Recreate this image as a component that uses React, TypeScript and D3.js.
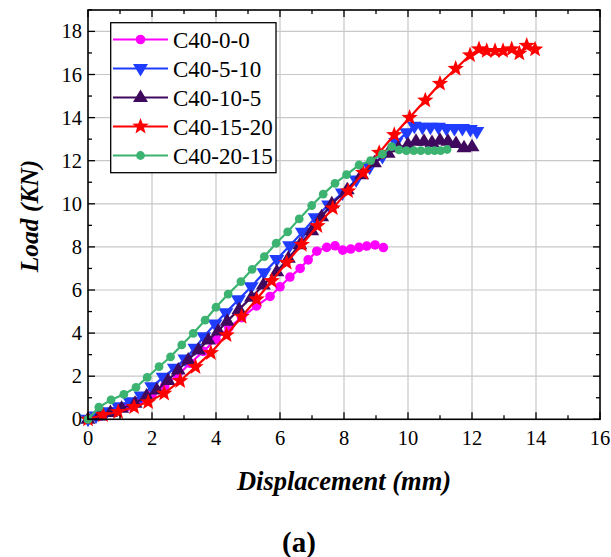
import React from "react";
import * as d3 from "d3";

type P = [number, number];

const c40_0_0: P[] = [[0,0],[0.4,0.15],[0.8,0.35],[1.2,0.58],[1.6,0.85],[2.0,1.15],[2.4,1.55],[2.8,2.05],[3.2,2.6],[3.6,3.15],[4.0,3.7],[4.4,4.25],[4.8,4.72],[5.27,5.26],[5.69,5.7],[6.0,6.15],[6.31,6.6],[6.63,7.0],[6.88,7.4],[7.15,7.8],[7.46,7.98],[7.72,8.05],[7.96,7.85],[8.21,7.9],[8.47,7.98],[8.71,8.04],[8.97,8.09],[9.23,7.97]];
const c40_5_10: P[] = [[0,0],[0.25,0.15],[0.58,0.35],[0.95,0.58],[1.31,0.82],[1.66,1.08],[1.99,1.51],[2.35,1.95],[2.7,2.37],[3.03,2.8],[3.34,3.3],[3.62,3.83],[3.97,4.42],[4.31,4.95],[4.7,5.55],[5.1,6.15],[5.5,6.8],[5.9,7.42],[6.3,8.05],[6.7,8.68],[7.1,9.35],[7.52,9.95],[7.95,10.5],[8.38,11.1],[8.8,11.7],[9.2,12.2],[9.62,12.84],[9.96,13.3],[10.2,13.6],[10.45,13.55],[10.7,13.55],[10.95,13.55],[11.2,13.5],[11.45,13.5],[11.7,13.5],[11.95,13.45],[12.15,13.35]];
const c40_10_5: P[] = [[0,0],[0.35,0.15],[0.7,0.32],[1.05,0.51],[1.47,0.74],[1.83,1.08],[2.15,1.36],[2.5,1.8],[2.82,2.29],[3.13,2.75],[3.45,3.22],[3.76,3.68],[4.07,4.1],[4.35,4.55],[4.72,5.1],[5.11,5.66],[5.48,6.23],[5.9,6.85],[6.26,7.47],[6.62,8.1],[6.99,8.75],[7.3,9.4],[7.62,10.0],[8.1,10.65],[8.55,11.35],[8.95,11.9],[9.38,12.34],[9.7,12.6],[10.0,12.75],[10.25,12.9],[10.5,12.9],[10.75,12.85],[11.0,12.95],[11.25,12.9],[11.5,12.8],[11.75,12.6],[12.0,12.65]];
const c40_15_20: P[] = [[0,0],[0.47,0.2],[0.94,0.34],[1.44,0.57],[1.88,0.8],[2.38,1.2],[2.88,1.78],[3.36,2.43],[3.84,3.08],[4.33,3.91],[4.8,4.76],[5.27,5.57],[5.74,6.42],[6.21,7.27],[6.68,8.1],[7.17,8.97],[7.65,9.8],[8.13,10.59],[8.6,11.44],[9.1,12.37],[9.57,13.2],[10.05,14.0],[10.54,14.8],[11.0,15.58],[11.49,16.27],[11.94,16.9],[12.22,17.18],[12.46,17.1],[12.72,17.1],[12.97,17.1],[13.24,17.18],[13.48,16.98],[13.71,17.34],[13.97,17.17]];
const c40_20_15: P[] = [[0,0],[0.34,0.56],[0.72,0.9],[1.12,1.16],[1.5,1.48],[1.85,1.95],[2.22,2.44],[2.58,2.9],[2.93,3.45],[3.29,3.99],[3.66,4.6],[4.0,5.2],[4.38,5.81],[4.78,6.39],[5.13,6.96],[5.51,7.55],[5.88,8.17],[6.24,8.7],[6.6,9.3],[6.99,9.92],[7.35,10.45],[7.72,10.95],[8.08,11.35],[8.47,11.8],[8.83,12.0],[9.2,12.3],[9.49,12.65],[9.72,12.5],[9.95,12.47],[10.18,12.47],[10.4,12.47],[10.63,12.47],[10.83,12.47],[11.02,12.47],[11.22,12.52]];

const seriesNames = ["C40-0-0", "C40-5-10", "C40-10-5", "C40-15-20", "C40-20-15"];
const seriesData = [c40_0_0, c40_5_10, c40_10_5, c40_15_20, c40_20_15];
const seriesColors = ["#ff00ff", "#1f3cff", "#3f0a5e", "#ff0000", "#3cb371"];
const seriesMarkers = ["circle", "tridown", "triup", "star", "smallcircle"];

const xTicks = [0, 2, 4, 6, 8, 10, 12, 14, 16];
const yTicks = [0, 2, 4, 6, 8, 10, 12, 14, 16, 18];

const W = 611, H = 557;
const L = 88, R = 600, T = 10, B = 419.3;
const FONT = "'Liberation Serif', 'Times New Roman', serif";

function starPath(r: number) {
  const ri = r * 0.42;
  const pts: string[] = [];
  for (let i = 0; i < 10; i++) {
    const a = -Math.PI / 2 + (i * Math.PI) / 5;
    const rr = i % 2 === 0 ? r : ri;
    pts.push(`${(rr * Math.cos(a)).toFixed(2)},${(rr * Math.sin(a)).toFixed(2)}`);
  }
  return "M" + pts.join("L") + "Z";
}

function Marker({ kind, color, x, y }: { kind: string; color: string; x: number; y: number }) {
  if (kind === "circle") return <circle cx={x} cy={y} r={4.8} fill={color} />;
  if (kind === "smallcircle") return <circle cx={x} cy={y} r={4.4} fill={color} />;
  if (kind === "tridown")
    return <path d={`M${x - 7.5},${y - 4.5}L${x + 7.5},${y - 4.5}L${x},${y + 8}Z`} fill={color} />;
  if (kind === "triup")
    return <path d={`M${x - 7.5},${y + 4.5}L${x + 7.5},${y + 4.5}L${x},${y - 8}Z`} fill={color} />;
  return <path d={starPath(8.6)} transform={`translate(${x},${y})`} fill={color} />;
}

export default function App() {
  const x = d3.scaleLinear().domain([0, 16]).range([L, R]);
  const y = d3.scaleLinear().domain([0, 19]).range([B, B - 19 * 21.55]);
  const line = d3.line<P>().x((d) => x(d[0])).y((d) => y(d[1]));
  const xMinor = d3.range(0, 17, 1);
  const yMinor = d3.range(0, 20, 1);

  const legX = 110.7, legY = 22.7, legW = 165.3, legH = 150;

  return (
    <svg width={W} height={H} style={{ position: "absolute", left: 0, top: 0, background: "#fff" }} fontFamily={FONT}>
      <rect x={0} y={0} width={W} height={H} fill="#fff" />
      {xTicks.filter((t) => t > 0 && t < 16).map((t) => (
        <line key={"gx" + t} x1={x(t)} x2={x(t)} y1={T} y2={B} stroke="#c8c8c8" strokeWidth={1.2} />
      ))}
      {yTicks.filter((t) => t > 0).map((t) => (
        <line key={"gy" + t} x1={L} x2={R} y1={y(t)} y2={y(t)} stroke="#c8c8c8" strokeWidth={1.2} />
      ))}
      {seriesData.map((data, i) => (
        <g key={"s" + i}>
          <path d={line(data) || ""} fill="none" stroke={seriesColors[i]} strokeWidth={2.2} />
          {data.map((d, j) => (
            <Marker key={j} kind={seriesMarkers[i]} color={seriesColors[i]} x={x(d[0])} y={y(d[1])} />
          ))}
        </g>
      ))}
      <rect x={L} y={T} width={R - L} height={B - T} fill="none" stroke="#000" strokeWidth={1.6} />
      {xMinor.map((t) => {
        const len = t % 2 === 0 ? 7 : 4;
        return (
          <g key={"tx" + t}>
            <line x1={x(t)} x2={x(t)} y1={B} y2={B - len} stroke="#000" strokeWidth={1.3} />
            <line x1={x(t)} x2={x(t)} y1={T} y2={T + len} stroke="#000" strokeWidth={1.3} />
          </g>
        );
      })}
      {yMinor.map((t) => {
        const len = t % 2 === 0 ? 7 : 4;
        return (
          <g key={"ty" + t}>
            <line x1={L} x2={L + len} y1={y(t)} y2={y(t)} stroke="#000" strokeWidth={1.3} />
            <line x1={R} x2={R - len} y1={y(t)} y2={y(t)} stroke="#000" strokeWidth={1.3} />
          </g>
        );
      })}
      {xTicks.map((t) => (
        <text key={"lx" + t} x={x(t)} y={B + 26} textAnchor="middle" fontFamily={FONT} fontSize={20.5}>
          {t}
        </text>
      ))}
      {yTicks.map((t) => (
        <text key={"ly" + t} x={L - 6} y={y(t) + 7} textAnchor="end" fontFamily={FONT} fontSize={20.5}>
          {t}
        </text>
      ))}
      <text x={344} y={490} textAnchor="middle" fontFamily={FONT} fontSize={26.5} fontWeight="bold" fontStyle="italic">
        Displacement (mm)
      </text>
      <text
        transform={`translate(38,216) rotate(-90)`}
        textAnchor="middle"
        fontFamily={FONT}
        fontSize={25.5}
        fontWeight="bold"
        fontStyle="italic"
      >
        Load (KN)
      </text>
      <text x={299} y={552} textAnchor="middle" fontFamily={FONT} fontSize={29} fontWeight="bold">
        (a)
      </text>
      <rect x={legX} y={legY} width={legW} height={legH} fill="#fff" stroke="#000" strokeWidth={1.3} />
      {seriesNames.map((n, i) => {
        const ly = 39.5 + i * 29;
        return (
          <g key={"lg" + i}>
            <line x1={113} x2={168} y1={ly} y2={ly} stroke={seriesColors[i]} strokeWidth={2.2} />
            <Marker kind={seriesMarkers[i]} color={seriesColors[i]} x={140.5} y={ly} />
            <text x={173} y={ly + 8} fontFamily={FONT} fontSize={23}>
              {n}
            </text>
          </g>
        );
      })}
    </svg>
  );
}
